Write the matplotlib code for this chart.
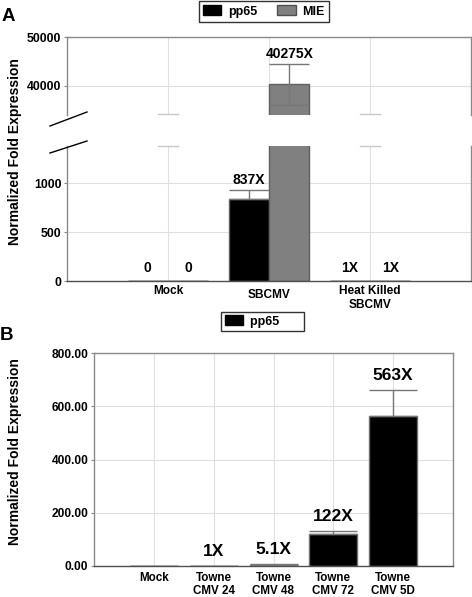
import matplotlib
matplotlib.use('Agg')
import matplotlib.pyplot as plt
import matplotlib.transforms as mtransforms
from matplotlib.lines import Line2D
from matplotlib.patches import Patch
import numpy as np

plt.rcParams['font.family'] = ['Liberation Sans', 'DejaVu Sans']
plt.rcParams['font.weight'] = 'bold'

# panel A data
a_groups = ['Mock', 'SBCMV', 'Heat Killed\nSBCMV']
a_pp65 = [0, 837, 1]
a_pp65_err = [0, 90, 0]
a_mie = [0, 40275, 1]
a_mie_err = [0, 4200, 0]
a_pp65_lbl = ['0', '837X', '1X']
a_mie_lbl = ['0', '40275X', '1X']

# panel B data
b_groups = ['Mock', 'Towne\nCMV 24', 'Towne\nCMV 48', 'Towne\nCMV 72', 'Towne\nCMV 5D']
b_pp65 = [0, 1, 5.1, 122, 563]
b_pp65_err = [0, 0.3, 1.0, 8, 97]
b_lbl = ['', '1X', '5.1X', '122X', '563X']

MIE_C = '#808080'
GRID_C = '#e0e0e0'
SPINE_C = '#8a8a8a'
ERR_C = '#777777'

fig = plt.figure(figsize=(4.72, 5.97), dpi=100)

def style_axes(ax):
    ax.grid(True, color=GRID_C, lw=0.8)
    ax.set_axisbelow(True)
    for s in ax.spines.values():
        s.set_color(SPINE_C)
        s.set_linewidth(1.0)
    ax.spines['bottom'].set_color('#505050')
    ax.tick_params(axis='y', labelsize=8.8, length=2, color=SPINE_C, pad=2)
    ax.tick_params(axis='x', length=0, labelsize=8.6, pad=3)

def upper_only(err):
    return [np.zeros(len(err)), err]

# ---- panel A: broken axis ----
ax_top = fig.add_axes([67/472, 1-115/597, 404/472, 78/597])
ax_bot = fig.add_axes([67/472, 1-281/597, 404/472, 135/597])
xa = np.arange(len(a_groups))
w = 0.4
for ax in (ax_top, ax_bot):
    style_axes(ax)
    ax.bar(xa - w/2, a_pp65, w, color='black', edgecolor='#606060', lw=1.0)
    ax.bar(xa + w/2, a_mie, w, color=MIE_C, edgecolor='#606060', lw=1.0)
    ax.errorbar(xa - w/2, a_pp65, yerr=upper_only(a_pp65_err), fmt='none', ecolor=ERR_C,
                elinewidth=1, capsize=14.4, capthick=1)
    ax.errorbar(xa + w/2, a_mie, yerr=a_mie_err, fmt='none', ecolor=ERR_C,
                elinewidth=1, capsize=14.4, capthick=1)
    ax.set_xlim(-1, 3)
    ax.set_xticks(xa)

ax_top.set_ylim(34000, 50000)
ax_top.set_yticks([40000, 50000])
ax_top.set_xticklabels([])
ax_top.spines['bottom'].set_visible(False)
ax_bot.set_ylim(0, 1378)
ax_bot.set_yticks([0, 500, 1000])
ax_bot.spines['top'].set_visible(False)
ax_bot.set_xticklabels(a_groups, linespacing=1.15)
lbl = ax_bot.get_xticklabels()[1]
lbl.set_transform(lbl.get_transform() + mtransforms.ScaledTranslation(0, -4/100, fig.dpi_scale_trans))

# little caps where the gridlines stop at the break
for c in (0, 2):
    ax_top.plot([c - 0.1, c + 0.1], [34000 + 150, 34000 + 150], color='#c8c8c8', lw=1, clip_on=False)
    ax_bot.plot([c - 0.1, c + 0.1], [1378, 1378], color='#c8c8c8', lw=1, clip_on=False)

# break marks
for y0, y1 in ((126, 112), (153, 141)):
    fig.add_artist(Line2D([50/472, 87/472], [1-y0/597, 1-y1/597], color='black', lw=1))

def put_label(x, top, txt, size, off):
    ax = ax_top if top > ax_bot.get_ylim()[1] else ax_bot
    ax.annotate(txt, (x, top), xytext=(0, off), textcoords='offset points',
                ha='center', va='bottom', fontsize=size, fontweight='bold')

for i in range(len(a_groups)):
    put_label(xa[i] - w/2, a_pp65[i] + a_pp65_err[i], a_pp65_lbl[i], 10, 2 if a_pp65_err[i] else 4)
    put_label(xa[i] + w/2, a_mie[i] + a_mie_err[i], a_mie_lbl[i], 10, 2 if a_mie_err[i] else 4)

fig.legend(handles=[Patch(facecolor='black', edgecolor='black', label='pp65'),
                    Patch(facecolor=MIE_C, edgecolor='#505050', label='MIE')],
           loc='center', bbox_to_anchor=(264/472, 1-11.5/597), ncol=2, fontsize=9,
           frameon=True, fancybox=False, edgecolor='black', handlelength=1.45,
           handleheight=0.8, columnspacing=1.6, borderpad=0.35, handletextpad=0.55)
fig.text(2/472, 1-16.5/597, 'A', fontsize=13.5, fontweight='bold', va='center')
fig.text(15/472, 1-152/597, 'Normalized Fold Expression', rotation=90,
         ha='center', va='center', fontsize=10, fontweight='bold')

# ---- panel B ----
ax_b = fig.add_axes([94/472, 1-566/597, 359/472, 213/597])
style_axes(ax_b)
xb = np.arange(len(b_groups))
ax_b.bar(xb, b_pp65, 0.8, color='black', edgecolor='#707070', lw=1.0)
ax_b.errorbar(xb, b_pp65, yerr=upper_only(b_pp65_err), fmt='none', ecolor=ERR_C,
              elinewidth=1, capsize=17.3, capthick=1)
ax_b.set_xlim(-1, 5)
ax_b.set_ylim(0, 800)
ax_b.set_yticks([0, 200, 400, 600, 800])
ax_b.set_yticklabels([f'{v:.2f}' for v in [0, 200, 400, 600, 800]])
ax_b.tick_params(axis='y', labelsize=8.6)
ax_b.tick_params(axis='x', pad=4, labelsize=8.4)
ax_b.set_xticks(xb)
ax_b.set_xticklabels(b_groups, linespacing=1.2)
for i in range(len(b_groups)):
    if b_lbl[i]:
        ax_b.annotate(b_lbl[i], (xb[i], b_pp65[i] + b_pp65_err[i]), xytext=(0, 5),
                      textcoords='offset points', ha='center', va='bottom',
                      fontsize=12.5, fontweight='bold')

fig.legend(handles=[Patch(facecolor='black', edgecolor='black', label='pp65      ')],
           loc='center', bbox_to_anchor=(262.5/472, 1-321.5/597), fontsize=9,
           frameon=True, fancybox=False, edgecolor='black', handlelength=1.45,
           handleheight=0.8, borderpad=0.3, handletextpad=0.55)
fig.text(0, 1-336/597, 'B', fontsize=13.5, fontweight='bold', va='center')
fig.text(15/472, 1-452/597, 'Normalized Fold Expression', rotation=90,
         ha='center', va='center', fontsize=10, fontweight='bold')

fig.savefig('out.png', dpi=100)
